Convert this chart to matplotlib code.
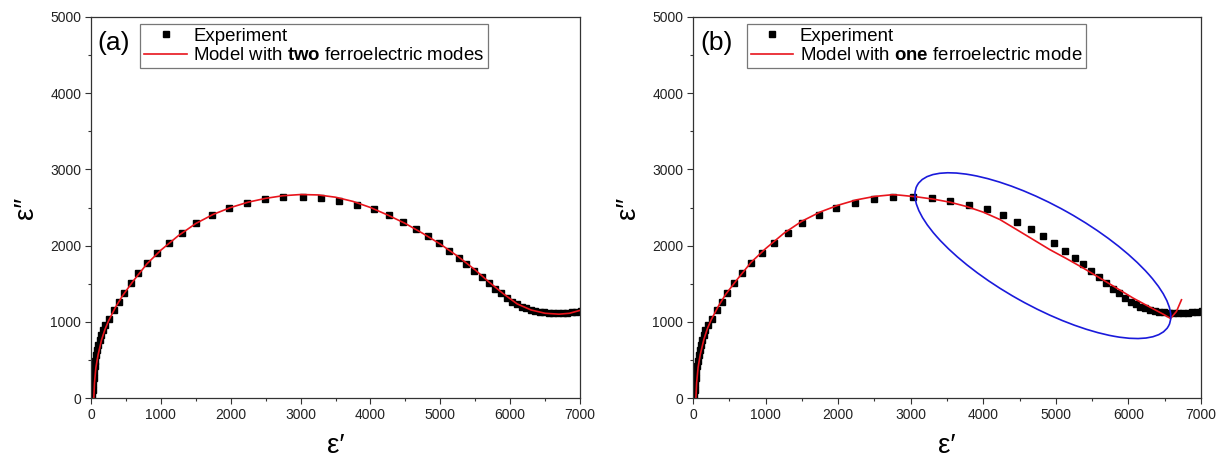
import matplotlib
matplotlib.use("Agg")
import matplotlib.pyplot as plt
import matplotlib.transforms as mtransforms
from matplotlib.patches import Ellipse
from matplotlib.ticker import MultipleLocator

plt.rcParams['font.family'] = ['Liberation Sans', 'DejaVu Sans']
plt.rcParams['mathtext.fontset'] = 'custom'
plt.rcParams['mathtext.rm'] = 'Liberation Sans'
plt.rcParams['mathtext.bf'] = 'Liberation Sans:bold'

# experimental Cole-Cole points (eps', eps'') - same in both panels
exp_re = [18, 24, 30, 37, 45, 54, 64, 76, 90, 106, 124, 145, 170, 205, 258,
          325, 394, 468, 570, 676, 802, 949, 1120, 1306, 1507, 1731, 1972,
          2230, 2492, 2754, 3029, 3297, 3548, 3805, 4051, 4270, 4461, 4653,
          4828, 4981, 5128, 5265, 5374, 5484, 5593, 5692, 5784, 5872, 5954,
          6031, 6100, 6165, 6230, 6295, 6360, 6425, 6490, 6555, 6620, 6685,
          6750, 6815, 6880, 6945, 7010]
exp_im = [20, 100, 180, 260, 340, 415, 490, 560, 630, 700, 765, 830, 890, 960,
          1033, 1150, 1263, 1381, 1503, 1634, 1774, 1908, 2040, 2170, 2295,
          2399, 2490, 2561, 2608, 2639, 2642, 2629, 2590, 2537, 2476, 2397,
          2314, 2222, 2125, 2029, 1932, 1840, 1753, 1670, 1591, 1512, 1437,
          1372, 1315, 1262, 1230, 1200, 1176, 1157, 1143, 1132, 1124, 1118,
          1115, 1114, 1115, 1118, 1123, 1130, 1138]

# model with two ferroelectric modes (panel a)
two_re = [40, 50, 70, 100, 150, 200, 250, 350, 450, 600, 800, 1000, 1250,
          1500, 1750, 2000, 2250, 2500, 2750, 3000, 3250, 3500, 3750, 4000,
          4250, 4500, 4750, 5000, 5250, 5500, 5700, 5900, 6100, 6300, 6500,
          6700, 6850, 7000]
two_im = [0, 200, 400, 560, 760, 900, 1010, 1190, 1340, 1530, 1760, 1940,
          2130, 2290, 2410, 2500, 2570, 2620, 2655, 2670, 2665, 2635, 2580,
          2500, 2400, 2290, 2160, 2020, 1860, 1680, 1520, 1370, 1235, 1155,
          1112, 1100, 1112, 1150]

# model with one ferroelectric mode (panel b)
one_re = [40, 50, 70, 100, 150, 200, 250, 350, 450, 600, 800, 1000, 1250,
          1500, 1750, 2000, 2250, 2500, 2750, 2851, 3081, 3310, 3540, 3770,
          3999, 4229, 4458, 4688, 4917, 5147, 5376, 5606, 5836, 6065, 6295,
          6478, 6580, 6662, 6731]
one_im = [0, 200, 400, 570, 770, 915, 1025, 1205, 1360, 1545, 1780, 1960,
          2160, 2320, 2440, 2530, 2600, 2645, 2668, 2662, 2640, 2610, 2570,
          2513, 2439, 2342, 2211, 2079, 1947, 1829, 1706, 1575, 1443, 1311,
          1193, 1101, 1044, 1136, 1289]

panels = ['(a)', '(b)']
model_labels = ['Model with $\\bf{two}$ ferroelectric modes',
                'Model with $\\bf{one}$ ferroelectric mode']

fig = plt.figure(figsize=(12.27, 4.68), dpi=100)
ax_a = fig.add_axes([91 / 1227, 1 - 398 / 468, 489 / 1227, 381 / 468])
ax_b = fig.add_axes([693 / 1227, 1 - 398 / 468, 508 / 1227, 381 / 468])
legend_left = [0.101, 0.106]

for i, ax in enumerate([ax_a, ax_b]):
    ax.plot(exp_re, exp_im, 's', color='black', ms=5, mec='black',
            label='Experiment', zorder=2)
    if i == 0:
        ax.plot(two_re, two_im, '-', color='#e8141c', lw=1.2,
                label=model_labels[0], zorder=3)
    else:
        ax.plot(one_re, one_im, '-', color='#e8141c', lw=1.2,
                label=model_labels[1], zorder=3)
    ax.set_xlim(0, 7000)
    ax.set_ylim(0, 5000)
    ax.xaxis.set_major_locator(MultipleLocator(1000))
    ax.xaxis.set_minor_locator(MultipleLocator(500))
    ax.yaxis.set_major_locator(MultipleLocator(1000))
    ax.yaxis.set_minor_locator(MultipleLocator(500))
    ax.tick_params(which='both', direction='out', top=False, right=False,
                   color='#333333', width=0.8)
    ax.tick_params(which='major', length=4, labelsize=10, pad=3,
                   labelcolor='#222222')
    ax.tick_params(which='minor', length=2.5)
    for sp in ax.spines.values():
        sp.set_color('#333333')
        sp.set_linewidth(0.9)
    ax.set_xlabel('ε′', fontsize=20, labelpad=8)
    ax.set_ylabel('ε″', fontsize=20, labelpad=8)
    ax.text(0.014, 0.932, panels[i], transform=ax.transAxes, fontsize=19,
            ha='left', va='center')
    leg = ax.legend(loc='upper left', bbox_to_anchor=(legend_left[i], 0.982),
                    borderaxespad=0, fontsize=13.4, numpoints=1,
                    handlelength=2.3, handletextpad=0.35, labelspacing=0.15,
                    borderpad=0.2, fancybox=False, framealpha=1,
                    edgecolor='#777777')
    leg.get_frame().set_linewidth(0.9)

# blue ellipse marking the misfit region in panel (b)
ell_center = (4821, 1868)
ell_trans = fig.dpi_scale_trans + mtransforms.ScaledTranslation(
    ell_center[0], ell_center[1], ax_b.transData)
ell = Ellipse((0, 0), width=2.88, height=1.0, angle=-29.3, fill=False,
              edgecolor='#1a1adb', lw=1.2, transform=ell_trans, zorder=4)
ax_b.add_patch(ell)

fig.savefig('out.png', dpi=100)
